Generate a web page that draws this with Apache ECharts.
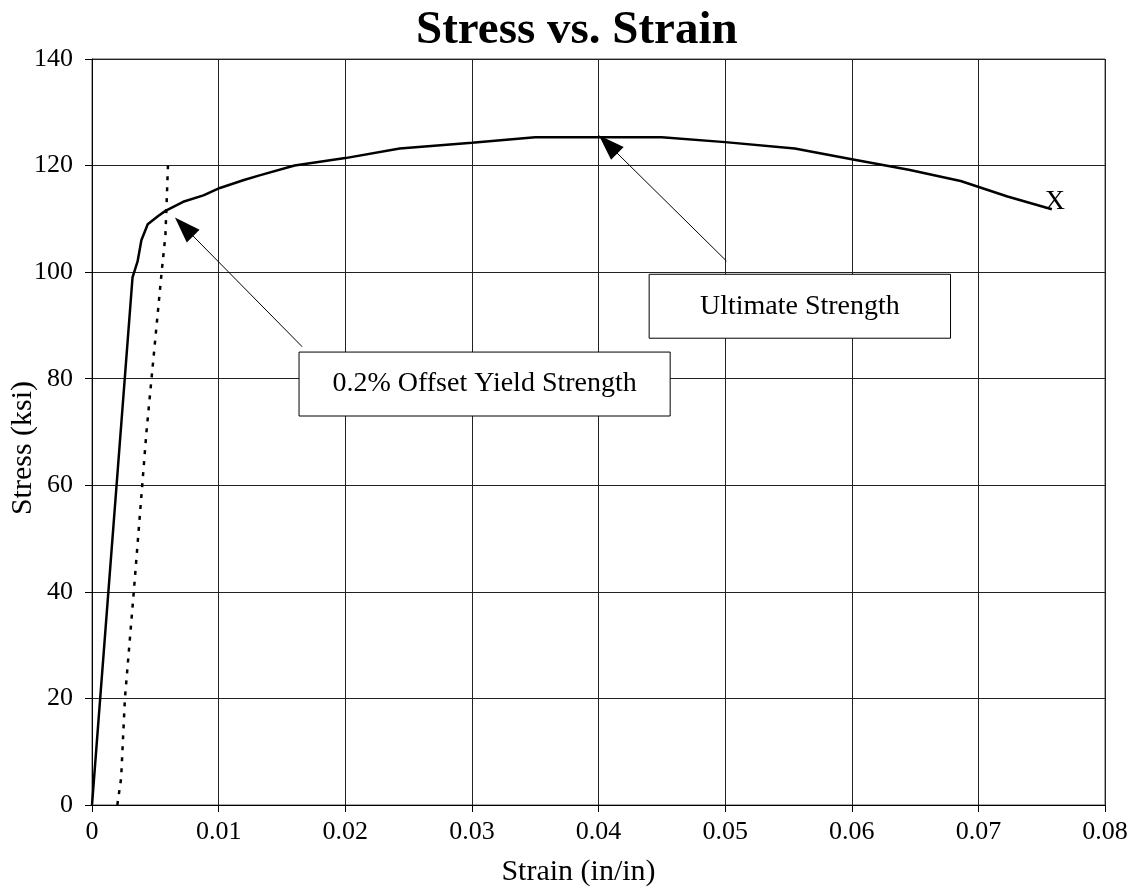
<!DOCTYPE html>
<html lang="en">
<head>
    <meta charset="UTF-8">
    <title>Stress vs. Strain</title>
    <script src="https://cdn.jsdelivr.net/npm/echarts@6/dist/echarts.min.js"></script>
    <style>
        html, body { margin: 0; padding: 0; background: #fff; }
    </style>
</head>
<body>
    <div id="myChart" style="width: 1137px; height: 890px;"></div>
    <script>
        // measured curve: [strain (in/in), stress (ksi)]
        const stressStrain = [
            [0, 0], [0.0032, 99], [0.0036, 102], [0.0039, 106], [0.0044, 109],
            [0.0052, 110.5], [0.0058, 111.5], [0.0072, 113.2], [0.0088, 114.4],
            [0.0101, 115.8], [0.012, 117.3], [0.0133, 118.2], [0.016, 120],
            [0.02, 121.4], [0.0243, 123.2], [0.03, 124.3], [0.035, 125.3],
            [0.04, 125.3], [0.045, 125.3], [0.05, 124.4], [0.0555, 123.2],
            [0.06, 121.2], [0.0645, 119.2], [0.0686, 117.1], [0.0723, 114.2],
            [0.0758, 111.8]
        ];
        // 0.2% offset line
        const offsetLine = [
            [0.002, 0], [0.0023, 5], [0.0026, 20], [0.0033, 40], [0.0043, 70],
            [0.0047, 80], [0.0055, 100], [0.0058, 107], [0.006, 120]
        ];
        const fracturePoint = [0.0758, 111.8];

        // annotations: arrow tail and arrowhead centre, text box corners in data units
        const yieldArrow = { from: [0.0166, 86], to: [0.00727, 108.5] };
        const ultimateArrow = { from: [0.0501, 102.1], to: [0.04076, 124.0] };
        const yieldBox = { text: '0.2% Offset Yield Strength', x0: 0.01635, y0: 85.0, x1: 0.04566, y1: 73.0 };
        const ultimateBox = { text: 'Ultimate Strength', x0: 0.0440, y0: 99.6, x1: 0.0678, y1: 87.6 };

        const serif = '"Liberation Serif", "Times New Roman", serif';
        const myChart = echarts.init(document.getElementById('myChart'));

        const arrowLine = (a) => [
            { coord: a.from, symbol: 'none' },
            { coord: a.to, symbol: 'triangle', symbolSize: [18, 26] }
        ];

        const option = {
            backgroundColor: '#fff',
            animation: false,
            title: {
                text: 'Stress vs. Strain',
                left: 411,
                top: 2,
                textStyle: { fontFamily: serif, fontSize: 47, fontWeight: 'bold', color: '#000' }
            },
            grid: {
                left: 92, right: 32, top: 59, bottom: 85,
                containLabel: false, outerBoundsMode: 'none',
                show: true, borderColor: '#555', borderWidth: 1
            },
            xAxis: {
                type: 'value',
                min: 0, max: 0.08, interval: 0.01,
                name: 'Strain (in/in)',
                nameLocation: 'middle',
                nameGap: 52,
                nameMoveOverlap: false,
                nameTextStyle: { fontFamily: serif, fontSize: 30, color: '#000', padding: [0, 40, 0, 0] },
                axisLine: { lineStyle: { color: '#000' } },
                axisTick: { show: true, length: 7, lineStyle: { color: '#000' } },
                axisLabel: {
                    fontFamily: serif, fontSize: 26, color: '#000', margin: 14,
                    formatter: (v) => (v === 0 ? '0' : +v.toFixed(2) + '')
                },
                splitLine: { lineStyle: { color: '#222', width: 1 } }
            },
            yAxis: {
                type: 'value',
                min: 0, max: 140, interval: 20,
                name: 'Stress (ksi)',
                nameLocation: 'middle',
                nameGap: 54,
                nameMoveOverlap: false,
                nameTextStyle: { fontFamily: serif, fontSize: 30, color: '#000', padding: [0, 32, 0, 0] },
                axisLine: { show: true, lineStyle: { color: '#000' } },
                axisTick: { show: true, length: 7, lineStyle: { color: '#000' } },
                axisLabel: { fontFamily: serif, fontSize: 26, color: '#000', margin: 19 },
                splitLine: { lineStyle: { color: '#222', width: 1 } }
            },
            series: [
                {
                    name: 'Stress-Strain',
                    type: 'line',
                    data: stressStrain,
                    showSymbol: false,
                    lineStyle: { color: '#000', width: 2.5 },
                    z: 5,
                    markPoint: {
                        symbol: 'circle', symbolSize: 0,
                        data: [{ coord: fracturePoint }],
                        label: {
                            show: true, formatter: 'X', position: 'inside', offset: [3, -8],
                            fontFamily: serif, fontSize: 28, color: '#000'
                        }
                    },
                    markLine: {
                        silent: true,
                        animation: false,
                        label: { show: false },
                        lineStyle: { color: '#000', width: 1, type: 'solid' },
                        data: [arrowLine(yieldArrow), arrowLine(ultimateArrow)]
                    }
                },
                {
                    name: 'Offset',
                    type: 'line',
                    data: offsetLine,
                    showSymbol: false,
                    lineStyle: { color: '#000', width: 2.5, type: [4, 7] },
                    z: 4
                }
            ]
        };
        myChart.setOption(option);

        // text boxes placed from data coordinates
        function boxGraphic(b) {
            const p0 = myChart.convertToPixel({ gridIndex: 0 }, [b.x0, b.y0]);
            const p1 = myChart.convertToPixel({ gridIndex: 0 }, [b.x1, b.y1]);
            return {
                type: 'group',
                z: 100,
                children: [
                    {
                        type: 'rect',
                        shape: { x: p0[0], y: p0[1], width: p1[0] - p0[0], height: p1[1] - p0[1] },
                        style: { fill: '#fff', stroke: '#000', lineWidth: 1 }
                    },
                    {
                        type: 'text',
                        x: (p0[0] + p1[0]) / 2,
                        y: (p0[1] + p1[1]) / 2,
                        style: {
                            text: b.text, fontFamily: serif, fontSize: 28, fill: '#000',
                            align: 'center', verticalAlign: 'middle'
                        }
                    }
                ]
            };
        }
        myChart.setOption({ graphic: [boxGraphic(yieldBox), boxGraphic(ultimateBox)] });
    </script>
</body>
</html>
